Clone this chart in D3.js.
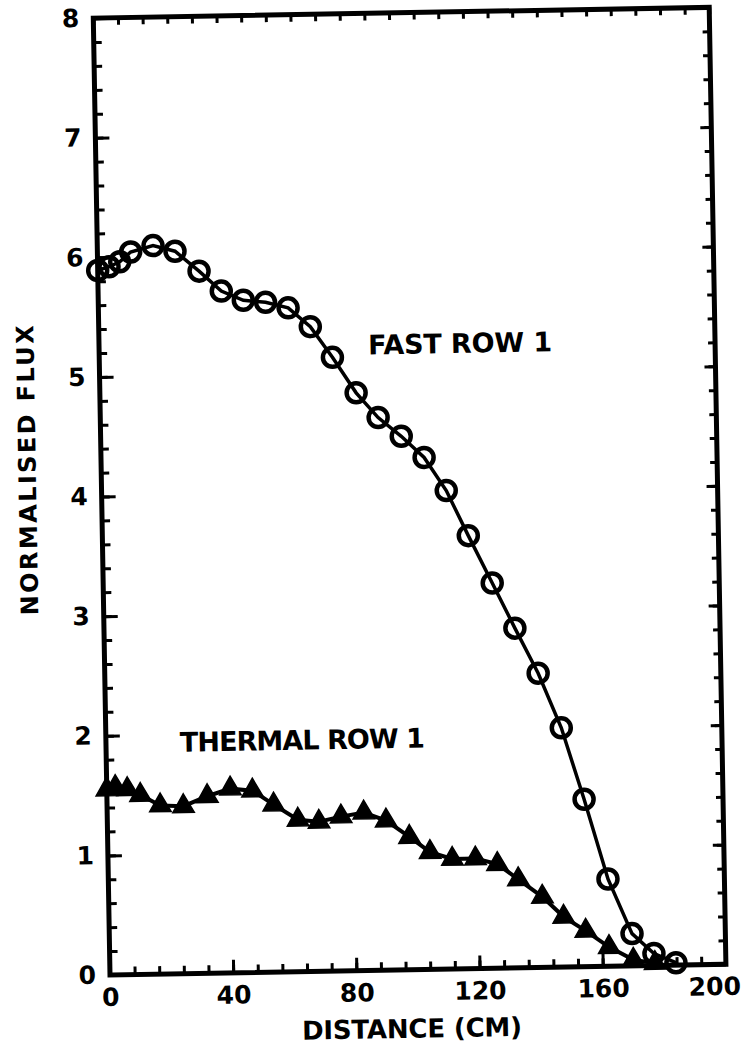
<!DOCTYPE html>
<html>
<head>
<meta charset="utf-8">
<script src="https://cdn.jsdelivr.net/npm/d3@7"></script>
<style>
  html, body { margin: 0; padding: 0; background: #fff; }
  svg { display: block; }
  text { font-family: "DejaVu Sans", sans-serif; font-weight: bold; fill: #000; }
</style>
</head>
<body>
<svg id="chart" width="752" height="1053"></svg>
<script>
// ---- data ----
const fastX = [0, 3.7, 7.2, 10.8, 18.1, 25.2, 32.9, 40.0, 47.1, 54.3, 61.6, 68.7, 75.7, 83.2, 90.2, 97.6, 104.9, 111.9, 118.8, 126.3, 133.4, 140.7, 147.9, 154.9, 162.2, 169.7, 176.7, 183.8];
const fastY = [5.89, 5.92, 5.96, 6.04, 6.09, 6.04, 5.87, 5.70, 5.62, 5.60, 5.55, 5.39, 5.13, 4.83, 4.62, 4.46, 4.28, 4.00, 3.62, 3.22, 2.84, 2.46, 2.00, 1.40, 0.73, 0.27, 0.10, 0.02];
const thermalX = [0, 2.8, 6.7, 10.9, 17.3, 24.8, 32.6, 40.1, 47.3, 54.1, 61.9, 68.7, 75.9, 83.3, 90.5, 98.0, 104.6, 111.8, 119.3, 126.4, 133.1, 140.8, 147.6, 154.7, 162.2, 170.0, 177.0];
const thermalY = [1.55, 1.57, 1.55, 1.50, 1.41, 1.40, 1.48, 1.54, 1.52, 1.40, 1.27, 1.25, 1.29, 1.32, 1.25, 1.11, 0.98, 0.92, 0.92, 0.87, 0.74, 0.59, 0.42, 0.30, 0.16, 0.05, 0.02];
const xMajorTicks = [0, 40, 80, 120, 160, 200];
const yMajorTicks = [0, 1, 2, 3, 4, 5, 6, 7, 8];
const xLabel = "DISTANCE (CM)";
const yLabel = "NORMALISED FLUX";
const fastLabel = "FAST ROW 1";
const thermalLabel = "THERMAL ROW 1";

const svg = d3.select("#chart");
svg.append("rect").attr("width", 752).attr("height", 1053).attr("fill", "#fff");

const x0 = 110, x1 = 726, yTop = 18, yBot = 975;
// the scanned figure is slightly tilted
const g = svg.append("g").attr("transform", `rotate(-1, ${x0}, ${yBot})`);

const x = d3.scaleLinear().domain([0, 200]).range([x0, x1]);
const y = d3.scaleLinear().domain([0, 8]).range([yBot, yTop]);

const xMinor = d3.range(0, 201, 8);
const yMinor = d3.range(0, 8.001, 0.2).map(v => +v.toFixed(1));

function styleAxis(sel, w) {
  sel.select(".domain").remove();
  sel.selectAll("line").attr("stroke", "#000").attr("stroke-width", w);
}
function styleText(sel) {
  sel.selectAll("text").attr("font-size", 25).attr("font-family", "DejaVu Sans")
    .attr("font-weight", "bold").attr("fill", "#000");
}

// bottom axis
g.append("g").attr("transform", `translate(0,${yBot})`)
  .call(d3.axisBottom(x).tickValues(xMinor).tickSize(-8).tickFormat(""))
  .call(s => styleAxis(s, 3));
g.append("g").attr("transform", `translate(0,${yBot})`)
  .call(d3.axisBottom(x).tickValues(xMajorTicks).tickSize(-13).tickPadding(13).tickFormat(d3.format("d")))
  .call(s => styleAxis(s, 3))
  .call(styleText)
  .call(s => s.selectAll(".tick text").filter(d => d === 200).attr("dx", -12));
// top axis
g.append("g").attr("transform", `translate(0,${yTop})`)
  .call(d3.axisTop(x).tickValues(xMinor).tickSize(-7).tickFormat(""))
  .call(s => styleAxis(s, 3));
// left axis
g.append("g").attr("transform", `translate(${x0},0)`)
  .call(d3.axisLeft(y).tickValues(yMinor).tickSize(-8).tickFormat(""))
  .call(s => styleAxis(s, 3));
g.append("g").attr("transform", `translate(${x0},0)`)
  .call(d3.axisLeft(y).tickValues(yMajorTicks).tickSize(-14).tickPadding(14).tickFormat(d3.format("d")))
  .call(s => styleAxis(s, 3))
  .call(styleText);
// right axis
g.append("g").attr("transform", `translate(${x1},0)`)
  .call(d3.axisRight(y).tickValues(yMinor).tickSize(-7).tickFormat(""))
  .call(s => styleAxis(s, 3));
g.append("g").attr("transform", `translate(${x1},0)`)
  .call(d3.axisRight(y).tickValues(yMajorTicks).tickSize(-11).tickFormat(""))
  .call(s => styleAxis(s, 3));

// frame
g.append("rect")
  .attr("x", x(0)).attr("y", y(8))
  .attr("width", x(200) - x(0)).attr("height", y(0) - y(8))
  .attr("fill", "none").attr("stroke", "#000").attr("stroke-width", 5);

// series
const fast = fastX.map((v, i) => [v, fastY[i]]);
const thermal = thermalX.map((v, i) => [v, thermalY[i]]);
const line = d3.line().x(d => x(d[0])).y(d => y(d[1]));

g.append("path").datum(fast).attr("d", line)
  .attr("fill", "none").attr("stroke", "#000").attr("stroke-width", 3.5);
g.append("path").datum(thermal).attr("d", line)
  .attr("fill", "none").attr("stroke", "#000").attr("stroke-width", 4);

g.selectAll(".fast").data(fast).enter().append("circle")
  .attr("cx", d => x(d[0])).attr("cy", d => y(d[1])).attr("r", 9.5)
  .attr("fill", "none").attr("stroke", "#000").attr("stroke-width", 4.5);

const tri = d3.symbol().type(d3.symbolTriangle).size(200);
g.selectAll(".thermal").data(thermal).enter().append("path")
  .attr("d", tri)
  .attr("transform", d => `translate(${x(d[0])},${y(d[1])})`)
  .attr("fill", "#000").attr("stroke", "#000").attr("stroke-width", 1.5);

// labels
g.append("text").attr("x", 379).attr("y", 359).attr("font-size", 27)
  .attr("textLength", 184).text(fastLabel);
g.append("text").attr("x", 184).attr("y", 753).attr("font-size", 27)
  .attr("textLength", 245).text(thermalLabel);
g.append("text").attr("x", 301).attr("y", 1043).attr("font-size", 26)
  .attr("textLength", 220).text(xLabel);
g.append("text")
  .attr("transform", "translate(36,469) rotate(-90)")
  .attr("text-anchor", "middle").attr("dy", "0.36em").attr("font-size", 24)
  .attr("textLength", 290).text(yLabel);
</script>
</body>
</html>
